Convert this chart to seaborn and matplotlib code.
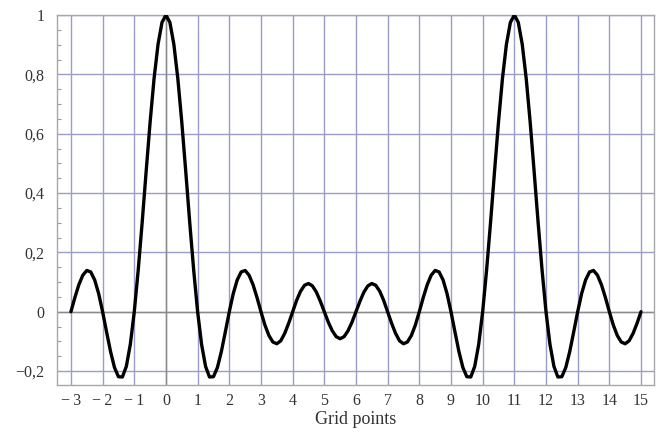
import numpy as np
import matplotlib
matplotlib.use("Agg")
import matplotlib.pyplot as plt
from matplotlib.ticker import MultipleLocator
import seaborn as sns

# Sample positions (grid points, step 1/8)
x_start, x_stop, x_step = -3.0, 15.0, 0.125

# Curve values, one per sample position
y_values = [
    # x = -3 ... -0.125
    0.000, 0.048, 0.091, 0.123, 0.139, 0.134, 0.107, 0.061,
    0.000, -0.068, -0.134, -0.188, -0.219, -0.220, -0.184, -0.110,
    0.000, 0.141, 0.302, 0.473, 0.639, 0.786, 0.901, 0.975,
    # x = 0 ... 5.5
    1.000, 0.975, 0.901, 0.786, 0.639, 0.473, 0.302, 0.141,
    0.000, -0.110, -0.184, -0.220, -0.219, -0.188, -0.134, -0.068,
    0.000, 0.061, 0.107, 0.134, 0.139, 0.123, 0.091, 0.048,
    0.000, -0.045, -0.080, -0.102, -0.108, -0.098, -0.073, -0.039,
    0.000, 0.038, 0.069, 0.089, 0.095, 0.087, 0.066, 0.035,
    0.000, -0.035, -0.064, -0.084, -0.091,
    # x = 5.625 ... 11
    -0.084, -0.064, -0.035, 0.000, 0.035, 0.066, 0.087, 0.095,
    0.089, 0.069, 0.038, 0.000, -0.039, -0.073, -0.098, -0.108,
    -0.102, -0.080, -0.045, 0.000, 0.048, 0.091, 0.123, 0.139,
    0.134, 0.107, 0.061, 0.000, -0.068, -0.134, -0.188, -0.219,
    -0.220, -0.184, -0.110, 0.000, 0.141, 0.302, 0.473, 0.639,
    0.786, 0.901, 0.975, 1.000,
    # x = 11.125 ... 15
    0.975, 0.901, 0.786, 0.639, 0.473, 0.302, 0.141, 0.000,
    -0.110, -0.184, -0.220, -0.219, -0.188, -0.134, -0.068, 0.000,
    0.061, 0.107, 0.134, 0.139, 0.123, 0.091, 0.048, 0.000,
    -0.045, -0.080, -0.102, -0.108, -0.098, -0.073, -0.039, 0.000,
]

x_ticks = list(range(-3, 16))
x_tick_labels = ["\u2212\u20093", "\u2212\u20092", "\u2212\u20091"] + [str(v) for v in range(0, 16)]
y_ticks = [-0.2, 0.0, 0.2, 0.4, 0.6, 0.8, 1.0]
y_tick_labels = ["\u22120,2", "0", "0,2", "0,4", "0,6", "0,8", "1"]
x_label = "Grid points"

x_values = np.arange(x_start, x_stop + x_step / 2, x_step)
assert len(x_values) == len(y_values)

sns.set_theme(style="white")
plt.rcParams["font.family"] = ["Liberation Serif", "DejaVu Serif"]

fig = plt.figure(figsize=(6.62, 4.36), dpi=100)
fig.patch.set_facecolor("white")
ax = fig.add_axes([57 / 662, 1 - 385 / 436, (654 - 57) / 662, (385 - 15) / 436])
ax.set_facecolor("white")

grid_col = "#9c9cc8"
axis_col = "#8a8a8a"

ax.set_xlim(-3.44, 15.41)
ax.set_ylim(-0.247, 1.0)
ax.set_xticks(x_ticks)
ax.set_xticklabels(x_tick_labels)
ax.set_yticks(y_ticks)
ax.set_yticklabels(y_tick_labels)
ax.yaxis.set_minor_locator(MultipleLocator(0.05))

ax.grid(True, which="major", color=grid_col, linewidth=1.0)
ax.set_axisbelow(True)
ax.axhline(0, color=axis_col, linewidth=1.0, zorder=1.5)
ax.axvline(0, color=axis_col, linewidth=1.0, zorder=1.5)

sns.lineplot(x=x_values, y=y_values, ax=ax, color="black", linewidth=2.4,
             zorder=3)

for sp in ax.spines.values():
    sp.set_color("#a8a8a8")
    sp.set_linewidth(1.0)

ax.tick_params(axis="both", which="major", direction="in", length=0,
               labelsize=11.5, colors="#333333", pad=6)
ax.tick_params(axis="y", which="minor", direction="in", length=3,
               color="#9a9a9a", width=0.8, left=True)
ax.tick_params(axis="y", which="major", pad=9)

ax.set_xlabel(x_label, fontsize=13, color="#333333", labelpad=1)
ax.set_ylabel("")

fig.savefig("out.png", dpi=100, facecolor="white")
